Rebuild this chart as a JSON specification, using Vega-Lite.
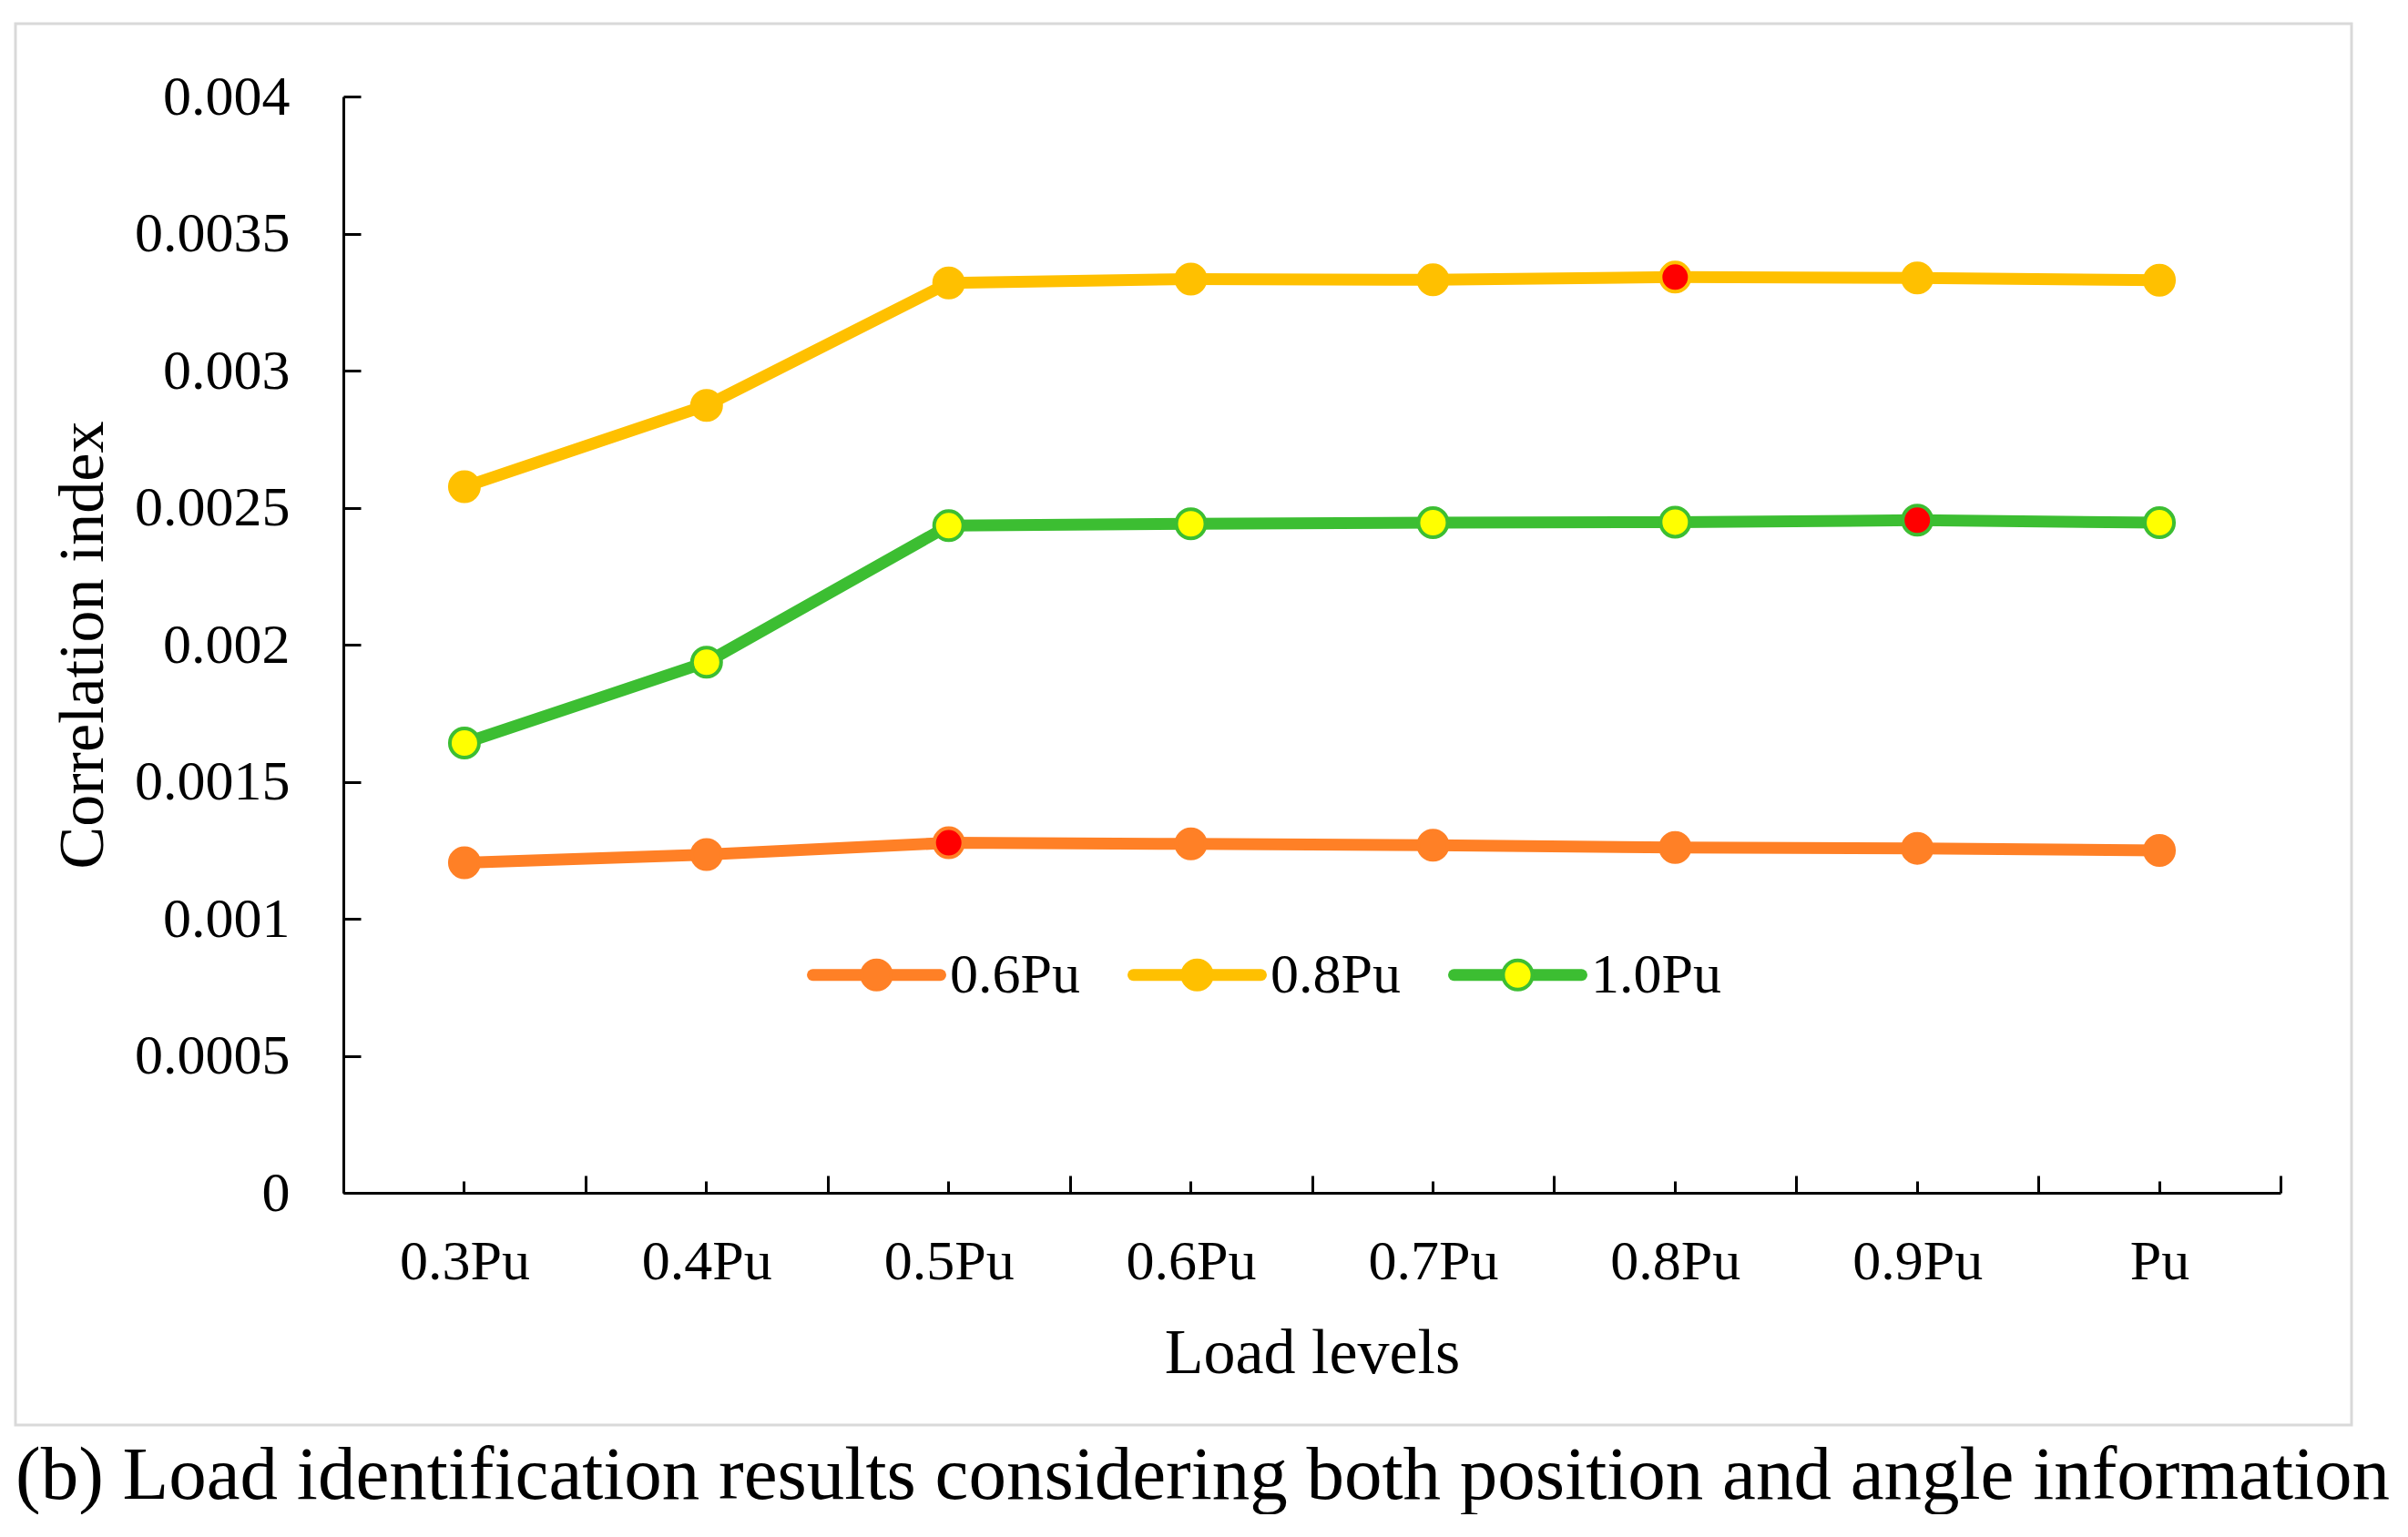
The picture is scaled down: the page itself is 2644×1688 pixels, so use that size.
{
  "$schema": "https://vega.github.io/schema/vega-lite/v6.json",
  "padding": {"left": 17, "top": 26, "right": 0, "bottom": 0},
  "width": 2565,
  "height": 1539,
  "background": "white",
  "config": {"view": {"stroke": "#D9D9D9", "strokeWidth": 3}},
  "title": {
    "text": "(b) Load identification results considering both position and angle information",
    "orient": "bottom", "anchor": "start", "frame": "group", "font": "Liberation Serif", "fontSize": 83,
    "fontWeight": "normal", "color": "black", "offset": 15, "baseline": "top"
  },
  "data": {"values": [
    {"series": "0.6Pu", "load": "0.3Pu", "value": 0.001204, "identified": false},
    {"series": "0.6Pu", "load": "0.4Pu", "value": 0.001234, "identified": false},
    {"series": "0.6Pu", "load": "0.5Pu", "value": 0.001277, "identified": true},
    {"series": "0.6Pu", "load": "0.6Pu", "value": 0.001273, "identified": false},
    {"series": "0.6Pu", "load": "0.7Pu", "value": 0.001268, "identified": false},
    {"series": "0.6Pu", "load": "0.8Pu", "value": 0.001260, "identified": false},
    {"series": "0.6Pu", "load": "0.9Pu", "value": 0.001257, "identified": false},
    {"series": "0.6Pu", "load": "Pu", "value": 0.001249, "identified": false},
    {"series": "0.8Pu", "load": "0.3Pu", "value": 0.002576, "identified": false},
    {"series": "0.8Pu", "load": "0.4Pu", "value": 0.002873, "identified": false},
    {"series": "0.8Pu", "load": "0.5Pu", "value": 0.003320, "identified": false},
    {"series": "0.8Pu", "load": "0.6Pu", "value": 0.003334, "identified": false},
    {"series": "0.8Pu", "load": "0.7Pu", "value": 0.003331, "identified": false},
    {"series": "0.8Pu", "load": "0.8Pu", "value": 0.003341, "identified": true},
    {"series": "0.8Pu", "load": "0.9Pu", "value": 0.003338, "identified": false},
    {"series": "0.8Pu", "load": "Pu", "value": 0.003330, "identified": false},
    {"series": "1.0Pu", "load": "0.3Pu", "value": 0.001641, "identified": false},
    {"series": "1.0Pu", "load": "0.4Pu", "value": 0.001936, "identified": false},
    {"series": "1.0Pu", "load": "0.5Pu", "value": 0.002434, "identified": false},
    {"series": "1.0Pu", "load": "0.6Pu", "value": 0.002441, "identified": false},
    {"series": "1.0Pu", "load": "0.7Pu", "value": 0.002445, "identified": false},
    {"series": "1.0Pu", "load": "0.8Pu", "value": 0.002447, "identified": false},
    {"series": "1.0Pu", "load": "0.9Pu", "value": 0.002454, "identified": true},
    {"series": "1.0Pu", "load": "Pu", "value": 0.002445, "identified": false}
  ]},
  "layer": [
    {
      "mark": {"type": "line", "strokeWidth": 13, "strokeJoin": "round", "strokeCap": "round"},
      "encoding": {
        "x": {
          "field": "load", "type": "nominal",
          "sort": ["0.3Pu", "0.4Pu", "0.5Pu", "0.6Pu", "0.7Pu", "0.8Pu", "0.9Pu", "Pu"],
          "scale": {"type": "band", "range": [360, 2487], "paddingInner": 0, "paddingOuter": 0},
          "axis": {
            "orient": "bottom", "offset": -255, "tickBand": "extent", "tickSize": -19, "tickWidth": 3,
            "tickColor": "black", "domainColor": "black", "domainWidth": 3, "grid": false,
            "labelFont": "Liberation Serif", "labelFontSize": 62, "labelColor": "black", "labelPadding": 64, "labelAngle": 0,
            "title": "Load levels", "titleFont": "Liberation Serif", "titleFontSize": 70, "titleFontWeight": "normal",
            "titleColor": "black", "titlePadding": 36
          }
        },
        "y": {
          "field": "value", "type": "quantitative",
          "scale": {"domain": [0, 0.004], "range": [1284, 80], "nice": false},
          "axis": {
            "orient": "left", "offset": -360,
            "values": [0, 0.0005, 0.001, 0.0015, 0.002, 0.0025, 0.003, 0.0035, 0.004],
            "format": "~g", "tickSize": -19, "tickWidth": 3, "tickColor": "black",
            "domainColor": "black", "domainWidth": 3, "grid": false,
            "labelFont": "Liberation Serif", "labelFontSize": 62, "labelColor": "black", "labelPadding": 78,
            "title": "Correlation index", "titleFont": "Liberation Serif", "titleFontSize": 70,
            "titleFontWeight": "normal", "titleColor": "black", "titlePadding": 50
          }
        },
        "color": {
          "field": "series", "type": "nominal",
          "scale": {"domain": ["0.6Pu", "0.8Pu", "1.0Pu"], "range": ["#FF8026", "#FFC000", "#3CBE32"]},
          "legend": {
            "title": null, "orient": "none", "legendX": 869, "legendY": 968, "direction": "horizontal",
            "symbolType": "stroke", "symbolSize": 19600, "symbolStrokeWidth": 13,
            "labelFont": "Liberation Serif", "labelFontSize": 62, "labelColor": "black", "labelOffset": 4,
            "columnPadding": 32, "padding": 0,
            "encode": {"symbols": {"update": {"strokeCap": {"value": "round"}}}}
          }
        }
      }
    },
    {
      "mark": {"type": "point", "shape": "circle", "filled": true, "size": 1024, "strokeWidth": 4, "opacity": 1},
      "encoding": {
        "x": {
          "field": "load", "type": "nominal",
          "sort": ["0.3Pu", "0.4Pu", "0.5Pu", "0.6Pu", "0.7Pu", "0.8Pu", "0.9Pu", "Pu"],
          "axis": {
            "orient": "bottom", "offset": -255, "tickBand": "center", "tickSize": -13, "tickWidth": 3,
            "tickColor": "black", "domain": false, "labels": false, "title": null, "grid": false
          }
        },
        "y": {"field": "value", "type": "quantitative"},
        "fill": {
          "condition": {"test": "datum.identified", "value": "#FF0000"},
          "field": "series", "type": "nominal",
          "scale": {"range": ["#FF8026", "#FFC000", "#FFFF00"]},
          "legend": {
            "title": null, "orient": "none", "legendX": 869, "legendY": 968, "direction": "horizontal",
            "symbolType": "M0.216,0A0.216,0.216,0,1,1,-0.216,0A0.216,0.216,0,1,1,0.216,0Z",
            "symbolSize": 22201, "symbolStrokeWidth": 4,
            "labelFont": "Liberation Serif", "labelFontSize": 62, "labelOffset": 0, "labelExpr": "''",
            "columnPadding": 199, "padding": 0,
            "encode": {
              "symbols": {"update": {"stroke": {"scale": "stroke", "field": "value"}, "opacity": {"value": 1}}}
            }
          }
        },
        "stroke": {
          "field": "series", "type": "nominal",
          "scale": {"range": ["#FF8026", "#FFC000", "#3CBE32"]},
          "legend": null
        }
      }
    }
  ],
  "resolve": {"axis": {"x": "independent"}}
}
